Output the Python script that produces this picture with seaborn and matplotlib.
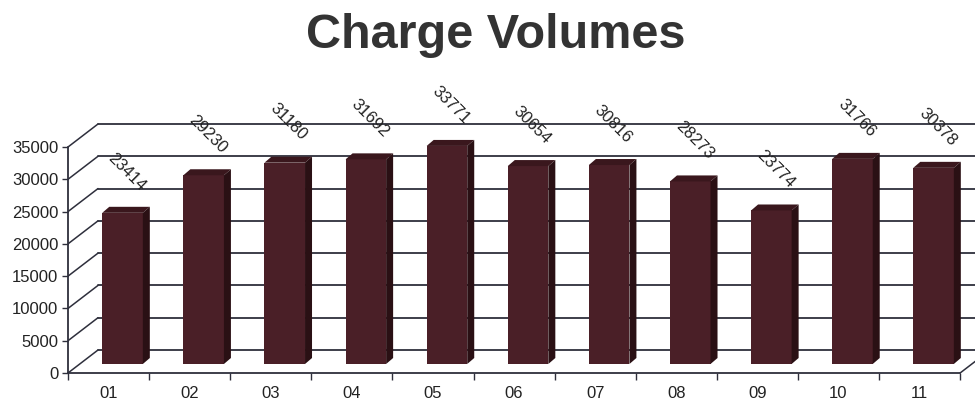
import matplotlib
matplotlib.use("Agg")
import matplotlib.pyplot as plt
import seaborn as sns
from matplotlib.patches import Polygon

# data
months = ['01', '02', '03', '04', '05', '06', '07', '08', '09', '10', '11']
volumes = [23414, 29230, 31180, 31692, 33771, 30654, 30816, 28273, 23774, 31766, 30378]
y_ticks = [0, 5000, 10000, 15000, 20000, 25000, 30000, 35000]

sns.set_style("white")
plt.rcParams['font.family'] = ['Liberation Sans', 'DejaVu Sans']

W, H = 975, 401
fig = plt.figure(figsize=(W / 100, H / 100), dpi=100)

px_x = 81.1            # pixels per category
px_y = 226 / 35000     # pixels per unit of value
ax = fig.add_axes([68 / W, 1 - 373 / H, 907 / W, 300 / H])

front = '#4a1f27'
side = '#2a1014'
top = '#3a171d'
grid = '#2e2f3c'

ax = sns.barplot(x=months, y=volumes, color=front, width=0.5, saturation=1,
                 edgecolor='none', ax=ax, zorder=3)
ax.set_xlim(-0.5, -0.5 + 907 / px_x)
ax.set_ylim(0, 300 / px_y)

# back wall depth (fake 3d)
dx = 30 / px_x
dy = 23 / px_y
x0, x1 = -0.5, len(months) - 0.5
for v in y_ticks:
    ax.plot([x0 + dx, 20], [v + dy, v + dy], color=grid, lw=1.3, zorder=1)
    ax.plot([x0, x0 + dx], [v, v + dy], color=grid, lw=1.1, zorder=1)
ax.plot([x1, x1 + dx], [0, dy], color=grid, lw=1.1, zorder=1)

# shift bars to mid depth and add side / top faces
bdx = 7 / px_x
bdy = 6 / px_y
bars = list(ax.patches)
for p, v in zip(bars, volumes):
    p.set_x(p.get_x() + 14 / px_x)
    p.set_y(9 / px_y)
    l = p.get_x()
    r = l + p.get_width()
    b = p.get_y()
    t = b + p.get_height()
    ax.add_patch(Polygon([(l, t), (l + bdx, t + bdy), (r + bdx, t + bdy), (r, t)],
                         closed=True, facecolor=top, edgecolor='none', zorder=3))
    ax.add_patch(Polygon([(r, b), (r + bdx, b + bdy), (r + bdx, t + bdy), (r, t)],
                         closed=True, facecolor=side, edgecolor='none', zorder=3))
    ax.text((l + r) / 2 + 4 / px_x, t + 41 / px_y, str(v), rotation=-45,
            ha='center', va='center', rotation_mode='anchor', fontsize=12,
            color='#222222', zorder=4)

# axes frame
sns.despine(ax=ax, top=True, right=True)
ax.spines['left'].set_bounds(0, 35000)
ax.spines['bottom'].set_bounds(x0, x1)
for s in ['left', 'bottom']:
    ax.spines[s].set_color(grid)
    ax.spines[s].set_linewidth(1.3)
    ax.spines[s].set_zorder(5)

ax.set_yticks(y_ticks)
ax.set_yticklabels([str(v) for v in y_ticks])
ax.set_xticks(range(len(months)))
ax.set_xticklabels(months)
ax.set_xticks([i - 0.5 for i in range(len(months) + 1)], minor=True)
ax.tick_params(axis='y', length=4, width=1, pad=3, color=grid, labelsize=12,
               labelcolor='#222222', left=True)
ax.tick_params(axis='x', which='major', length=0, pad=9, labelsize=12,
               labelcolor='#222222')
ax.tick_params(axis='x', which='minor', length=5, width=1, color=grid,
               direction='out', bottom=True)
ax.set_xlabel('')
ax.set_ylabel('')
ax.grid(False)

fig.text(496 / W, 1 - 35 / H, 'Charge Volumes', fontsize=35, fontweight='bold',
         ha='center', va='center', color='#333333')

fig.savefig('out.png', dpi=100)
